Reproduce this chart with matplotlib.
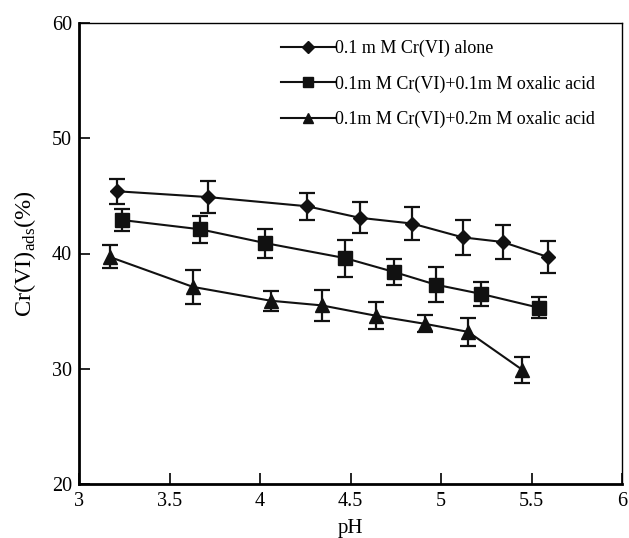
import matplotlib
matplotlib.use('Agg')
import matplotlib.pyplot as plt

# Data
ph_alone = [3.21, 3.71, 4.26, 4.55, 4.84, 5.12, 5.34, 5.59]
cr_alone = [45.4, 44.9, 44.1, 43.1, 42.6, 41.4, 41.0, 39.7]
err_alone = [1.1, 1.35, 1.15, 1.35, 1.45, 1.5, 1.45, 1.35]

ph_ox1 = [3.24, 3.67, 4.03, 4.47, 4.74, 4.97, 5.22, 5.54]
cr_ox1 = [42.9, 42.1, 40.9, 39.6, 38.4, 37.3, 36.5, 35.3]
err_ox1 = [0.95, 1.15, 1.25, 1.6, 1.1, 1.55, 1.05, 0.9]

ph_ox2 = [3.17, 3.63, 4.06, 4.34, 4.64, 4.91, 5.15, 5.45]
cr_ox2 = [39.7, 37.1, 35.9, 35.5, 34.6, 33.9, 33.2, 29.9]
err_ox2 = [1.0, 1.45, 0.85, 1.35, 1.15, 0.75, 1.2, 1.15]

labels = ['0.1 m M Cr(VI) alone',
          '0.1m M Cr(VI)+0.1m M oxalic acid',
          '0.1m M Cr(VI)+0.2m M oxalic acid']

plt.rcParams['font.family'] = 'Liberation Serif'
plt.rcParams['mathtext.fontset'] = 'custom'
plt.rcParams['mathtext.rm'] = 'Liberation Serif'

fig = plt.figure(figsize=(6.29, 5.38), dpi=100)
ax = fig.add_axes([79 / 629, 1 - 484 / 538, (622 - 79) / 629, (484 - 23) / 538])

c = '#111111'
series = [(ph_alone, cr_alone, err_alone, 'D', 7.5),
          (ph_ox1, cr_ox1, err_ox1, 's', 9.5),
          (ph_ox2, cr_ox2, err_ox2, '^', 10.5)]
handles = []
for (x, y, e, m, ms) in series:
    cont = ax.errorbar(x, y, yerr=e, color=c, marker=m, markersize=ms, lw=1.5,
                       elinewidth=1.6, capsize=6, capthick=1.6)
    handles.append(cont[0])

ax.set_xlim(3, 6)
ax.set_ylim(20, 60)
ax.set_xticks([3, 3.5, 4, 4.5, 5, 5.5, 6])
ax.set_xticklabels(['3', '3.5', '4', '4.5', '5', '5.5', '6'])
ax.set_yticks([20, 30, 40, 50, 60])
ax.tick_params(direction='in', length=8, width=1.2, labelsize=14.5,
               top=False, right=False)
ax.tick_params(axis='x', pad=6)
ax.tick_params(axis='y', pad=5)

for s in ['left', 'bottom']:
    ax.spines[s].set_linewidth(2)
for s in ['top', 'right']:
    ax.spines[s].set_linewidth(1.0)

ax.set_xlabel('pH', fontsize=15, labelpad=5.5)
ax.set_ylabel(r'Cr(VI)$_{\rm ads}$(%)', fontsize=17.5, labelpad=10)

leg = ax.legend(handles, labels, loc='upper left', bbox_to_anchor=(0.372, 0.963),
                frameon=False, fontsize=13, handlelength=3.0, handletextpad=0.0,
                labelspacing=1.0, borderaxespad=0, borderpad=0, markerscale=0.75)

fig.savefig('out.png', dpi=100)
